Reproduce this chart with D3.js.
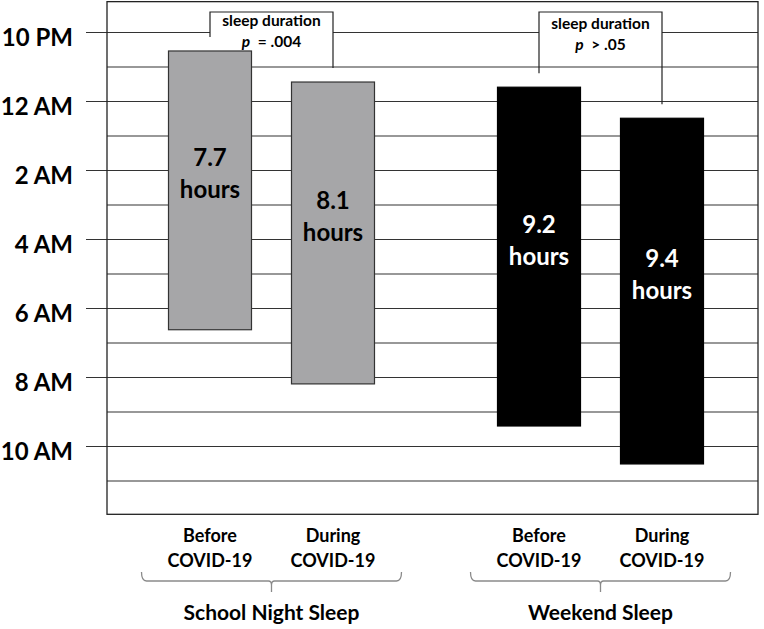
<!DOCTYPE html>
<meta charset="utf-8">
<title>Sleep timing before and during COVID-19</title>
<style>
body { margin: 0; background: #fff; }
svg { font-family: Lato, "Open Sans", sans-serif; font-weight: bold; }
.grid line { stroke: #333; stroke-width: 1.2px; }
.grid path { display: none; }
.grid text { font: bold 24px Lato, sans-serif; fill: #000; }
.bracket { fill: none; stroke: #222; stroke-width: 1.2px; }
.brace { fill: none; stroke: #8a8a8a; stroke-width: 1.3px; }
</style>
<svg class="chart"></svg>
<script src="https://d3js.org/d3.v7.min.js"></script>
<script>

// sleep groups and periods
var groups = ["School Night Sleep", "Weekend Sleep"];
var periods = ["Before", "During"];

// clock times (24 h decimal), one per bar: school before, school during, weekend before, weekend during
var bedtimes  = [22.55, 23.45, 23.6, 0.5];
var waketimes = [6.63, 8.2, 9.42, 10.52];
var durations = [7.7, 8.1, 9.2, 9.4];

// comparison p values per group
var pValues = ["= .004", "> .05"];

// y axis tick labels (every two hours from 10 PM)
var tickHours  = [22, 0, 2, 4, 6, 8, 10];
var tickLabels = ["10 PM", "12 AM", "2 AM", "4 AM", "6 AM", "8 AM", "10 AM"];
var minorHours = [23, 1, 3, 5, 7, 9, 11];

var width = 764, height = 629;
var frame = {left: 107, right: 758};

// hours elapsed since 10 PM
function sinceTen(t) { return (t - 22 + 24) % 24; }

var y = d3.scaleLinear()
    .domain([0, 12])
    .range([32, 446]);

var xGroup = d3.scalePoint()
    .domain(groups)
    .range([271.5, 600.5]);

var xPeriod = d3.scalePoint()
    .domain(periods)
    .range([-61.5, 61.5]);

var barWidth = 83;

var bars = [];
groups.forEach(function(g, i) {
  periods.forEach(function(p, j) {
    var k = i * 2 + j;
    bars.push({group: g, period: p, gi: i,
               bed: bedtimes[k], wake: waketimes[k], hours: durations[k]});
  });
});

function cx(d) { return xGroup(d.group) + xPeriod(d.period); }

var svg = d3.select(".chart")
    .attr("width", width)
    .attr("height", height);

// minor hour lines, only inside the frame
svg.append("g")
    .attr("class", "grid")
    .attr("transform", "translate(" + frame.right + ",0)")
    .call(d3.axisLeft(y)
        .tickValues(minorHours.map(sinceTen))
        .tickSize(frame.right - frame.left)
        .tickFormat(""));

// major hour lines with labels, reaching out left of the frame
svg.append("g")
    .attr("class", "grid")
    .attr("transform", "translate(" + frame.right + ",0)")
    .call(d3.axisLeft(y)
        .tickValues(tickHours.map(sinceTen))
        .tickSize(frame.right - 86)
        .tickPadding(13)
        .tickFormat(function(d, i) { return tickLabels[i]; }))
    .selectAll("text")
    .attr("dy", "0.55em");

// plot frame
svg.append("rect")
    .attr("x", frame.left)
    .attr("y", y(-0.88))
    .attr("width", frame.right - frame.left)
    .attr("height", y(13.98) - y(-0.88))
    .attr("fill", "none")
    .attr("stroke", "#222")
    .attr("stroke-width", 1.3);

// white panels behind the bracket labels (under the bars)
var bracketTop = 12;
groups.forEach(function(g) {
  svg.append("rect")
      .attr("x", xGroup(g) + xPeriod(periods[0]))
      .attr("y", bracketTop)
      .attr("width", xPeriod(periods[1]) - xPeriod(periods[0]))
      .attr("height", 48)
      .attr("fill", "#fff");
});

// bars from bedtime to wake time
svg.selectAll(".bar")
    .data(bars)
    .enter().append("rect")
    .attr("class", "bar")
    .attr("x", function(d) { return cx(d) - barWidth / 2; })
    .attr("y", function(d) { return y(sinceTen(d.bed)); })
    .attr("width", barWidth)
    .attr("height", function(d) { return y(sinceTen(d.wake)) - y(sinceTen(d.bed)); })
    .attr("fill", function(d) { return d.gi === 0 ? "#a6a6a8" : "#000"; })
    .attr("stroke", function(d) { return d.gi === 0 ? "#333" : "#000"; })
    .attr("stroke-width", 1.2);

// duration labels
var labels = svg.selectAll(".dur")
    .data(bars)
    .enter().append("text")
    .attr("class", "dur")
    .attr("text-anchor", "middle")
    .attr("font-size", 24)
    .attr("fill", function(d) { return d.gi === 0 ? "#000" : "#fff"; })
    .attr("transform", function(d) {
      var mid = (y(sinceTen(d.bed)) + y(sinceTen(d.wake))) / 2;
      return "translate(" + cx(d) + "," + (mid - 16) + ")";
    });
labels.append("tspan").attr("x", 0).attr("y", -8).text(function(d) { return d.hours; });
labels.append("tspan").attr("x", 0).attr("y", 24).text("hours");

// comparison brackets
groups.forEach(function(g, i) {
  var pair = bars.filter(function(d) { return d.gi === i; });
  var x1 = cx(pair[0]), x2 = cx(pair[1]);
  var end1 = y(sinceTen(pair[0].bed)) - 14,
      end2 = y(sinceTen(pair[1].bed)) - 14;
  var mid = (x1 + x2) / 2;

  svg.append("path")
      .attr("class", "bracket")
      .attr("d", "M" + x1 + "," + end1 + "V" + bracketTop + "H" + x2 + "V" + end2);

  svg.append("text")
      .attr("x", mid)
      .attr("y", bracketTop + 14 + i * 3)
      .attr("text-anchor", "middle")
      .attr("font-size", 15.5)
      .text("sleep duration");

  var pt = svg.append("text")
      .attr("x", mid)
      .attr("y", bracketTop + 35 + i * 3)
      .attr("text-anchor", "middle")
      .attr("font-size", 15.5);
  pt.append("tspan").attr("font-style", "italic").text("p");
  pt.append("tspan").text("  " + pValues[i]).attr("xml:space", "preserve");
});

// category labels under each bar
var cat = svg.selectAll(".cat")
    .data(bars)
    .enter().append("text")
    .attr("class", "cat")
    .attr("text-anchor", "middle")
    .attr("font-size", 18)
    .attr("transform", function(d) { return "translate(" + cx(d) + ",0)"; });
cat.append("tspan").attr("x", 0).attr("y", 542).text(function(d) { return d.period; });
cat.append("tspan").attr("x", 0).attr("y", 567).text("COVID-19");

// curly braces and group names
groups.forEach(function(g) {
  var c = xGroup(g), half = 130;
  var l = c - half, r = c + half, yb = 581;
  svg.append("path")
      .attr("class", "brace")
      .attr("d", "M" + l + "," + (yb - 9) + "Q" + l + "," + yb + " " + (l + 5) + "," + yb +
                 "H" + (c - 3) + "Q" + c + "," + yb + " " + c + "," + (yb + 4) + "V" + (yb + 11) +
                 "M" + c + "," + (yb + 4) + "Q" + c + "," + yb + " " + (c + 3) + "," + yb +
                 "H" + (r - 5) + "Q" + r + "," + yb + " " + r + "," + (yb - 9));
  svg.append("text")
      .attr("x", c)
      .attr("y", 620)
      .attr("text-anchor", "middle")
      .attr("font-size", 21)
      .text(g);
});

</script>
